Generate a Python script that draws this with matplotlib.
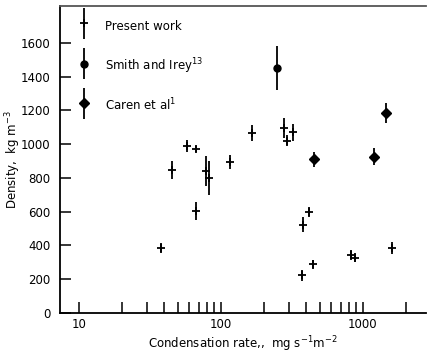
import matplotlib.pyplot as plt
from matplotlib.container import ErrorbarContainer
from matplotlib.legend_handler import HandlerErrorbar
from matplotlib.ticker import FixedLocator, NullFormatter

# Present work: condensation rate (mg s^-1 m^-2), density (kg m^-3), error
present_rate = [38, 45, 58, 67, 67, 78, 83, 116, 167, 279, 293, 324,
                373, 381, 420, 443, 828, 875, 1616]
present_density = [385, 847, 990, 972, 603, 840, 798, 893, 1068, 1094, 1021, 1071,
                   223, 523, 598, 288, 342, 328, 385]
present_err = [30, 53, 35, 20, 53, 90, 100, 42, 47, 60, 33, 50,
               32, 45, 27, 27, 30, 25, 37]

# Smith and Irey
smith_rate = [250]
smith_density = [1452]
smith_err = [130]

# Caren et al
caren_rate = [453, 1194, 1459]
caren_density = [911, 926, 1187]
caren_err = [45, 50, 60]

x_major = [10, 100, 1000]
x_minor = [m * d for d in (10, 100) for m in range(2, 10)] + [2000]

fig = plt.figure(figsize=(4.28, 3.54), dpi=100)
ax = fig.add_axes([0.140, 0.116, 0.855, 0.867])

kw = dict(color='black', ecolor='black', elinewidth=1.3, capsize=0, linestyle='none')
pw = ax.errorbar(present_rate, present_density, yerr=present_err,
                 marker='+', markersize=6, markeredgewidth=1.3, **kw)
si = ax.errorbar(smith_rate, smith_density, yerr=smith_err,
                 marker='o', markersize=5, **kw)
ca = ax.errorbar(caren_rate, caren_density, yerr=caren_err,
                 marker='D', markersize=4.8, **kw)

ax.set_xscale('log')
ax.set_xlim(7.35, 2780)
ax.set_ylim(0, 1819)

ax.xaxis.set_major_locator(FixedLocator(x_major))
ax.xaxis.set_minor_locator(FixedLocator(x_minor))
ax.xaxis.set_minor_formatter(NullFormatter())
ax.set_xticklabels([str(v) for v in x_major])
ax.set_yticks(range(0, 1601, 200))

ax.tick_params(axis='both', which='both', direction='in', length=8, width=1.1,
               labelsize=8.5, color='black')
ax.tick_params(axis='x', which='both', top=False, pad=4)
ax.tick_params(axis='y', right=False, pad=7)

ax.spines['right'].set_visible(False)
for side in ('left', 'bottom', 'top'):
    ax.spines[side].set_linewidth(1.3)
ax.spines['top'].set_color('#555555')

ax.set_xlabel('Condensation rate,,  mg s$^{-1}$m$^{-2}$', fontsize=8.5, labelpad=2)
ax.set_ylabel('Density,  kg m$^{-3}$', fontsize=8.5)
ax.yaxis.set_label_coords(-0.10, 0.50)

leg = ax.legend([pw, si, ca],
                ['Present work', 'Smith and Irey$^{13}$', 'Caren et al$^{1}$'],
                loc='upper left', bbox_to_anchor=(0.02, 1.0), frameon=False,
                fontsize=8.5, handlelength=1.0, handleheight=2.2, labelspacing=1.7,
                handletextpad=1.3,
                handler_map={ErrorbarContainer: HandlerErrorbar(yerr_size=1.3)})

fig.savefig('out.png', dpi=100)
